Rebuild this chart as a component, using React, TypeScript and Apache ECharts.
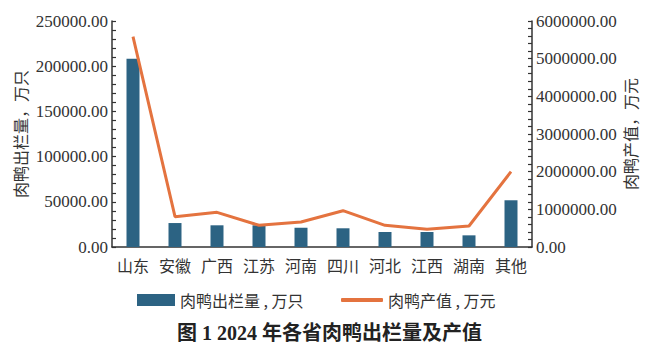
import React, { useEffect, useRef } from "react";
import * as echarts from "echarts";

const categories = ["山东", "安徽", "广西", "江苏", "河南", "四川", "河北", "江西", "湖南", "其他"];
const stockValues = [208300, 26500, 24000, 24000, 21300, 20700, 16600, 16600, 12900, 51700];
const outputValues = [5583000, 805000, 921000, 576000, 664000, 964000, 576000, 470000, 557000, 1999000];
const barName = "肉鸭出栏量 , 万只";
const lineName = "肉鸭产值 , 万元";
const leftAxisName = "肉鸭出栏量，万只";
const rightAxisName = "肉鸭产值，万元";
const titleText = "图 1 2024 年各省肉鸭出栏量及产值";

const SERIF = "'Liberation Serif', 'Noto Sans CJK SC', serif";
const CJK = "'Noto Sans CJK SC', sans-serif";
const AXIS = "#333333";
const BAR = "#2c6383";
const LINE = "#e4733f";

export default function App() {
  const ref = useRef<HTMLDivElement>(null);
  useEffect(() => {
    const chart = echarts.init(ref.current!, undefined, { renderer: "svg" });
    const axisCommon = {
      type: "value" as const,
      splitNumber: 5,
      axisLine: { show: true, lineStyle: { color: AXIS, width: 1.5 } },
      axisTick: { show: true, inside: true, length: 4, lineStyle: { color: AXIS, width: 1.2 } },
      minorTick: { show: true, splitNumber: 5, length: 4, lineStyle: { color: AXIS, width: 1.2 } },
      splitLine: { show: false },
      nameLocation: "middle" as const,
      nameRotate: 90,
      nameMoveOverlap: false,
      nameTextStyle: { fontFamily: CJK, fontSize: 16, color: "#333" },
    };
    const numLabel = {
      fontFamily: SERIF,
      fontSize: 17,
      color: "#333",
      margin: 4,
      formatter: (v: number) => v.toFixed(2),
    };
    chart.setOption({
      animation: false,
      grid: { left: 112, right: 127, top: 21, bottom: 112 },
      title: {
        text: titleText,
        left: "center",
        top: 318,
        textStyle: { fontFamily: SERIF, fontSize: 20, fontWeight: "bold", color: "#222" },
      },
      legend: [
        {
          data: [{ name: barName, icon: "rect" }],
          left: 132,
          top: 287,
          itemWidth: 38,
          itemHeight: 12,
          textStyle: { fontFamily: CJK, fontSize: 16, color: "#333" },
        },
        {
          data: [{ name: lineName, icon: "roundRect" }],
          left: 336,
          top: 287,
          itemWidth: 42,
          itemHeight: 4,
          textStyle: { fontFamily: CJK, fontSize: 16, color: "#333" },
        },
      ],
      xAxis: {
        type: "category",
        data: categories,
        axisLine: { show: true, lineStyle: { color: AXIS, width: 1.5 } },
        axisTick: { show: false },
        axisLabel: { fontFamily: CJK, fontSize: 16, color: "#333", margin: 10, interval: 0 },
      },
      yAxis: [
        {
          ...axisCommon,
          min: 0,
          max: 250000,
          interval: 50000,
          name: leftAxisName,
          nameGap: 84,
          axisLabel: numLabel,
        },
        {
          ...axisCommon,
          min: 0,
          max: 6000000,
          interval: 1000000,
          position: "right",
          name: rightAxisName,
          nameGap: 90,
          axisLabel: numLabel,
        },
      ],
      series: [
        {
          name: barName,
          type: "bar",
          data: stockValues,
          barWidth: 13,
          itemStyle: { color: BAR },
          yAxisIndex: 0,
        },
        {
          name: lineName,
          type: "line",
          data: outputValues,
          yAxisIndex: 1,
          symbol: "none",
          lineStyle: { color: LINE, width: 3 },
          itemStyle: { color: LINE },
        },
      ],
    });
    return () => chart.dispose();
  }, []);
  return <div ref={ref} style={{ width: 659, height: 359, position: "fixed", left: 0, top: 0, background: "#fff" }} />;
}
